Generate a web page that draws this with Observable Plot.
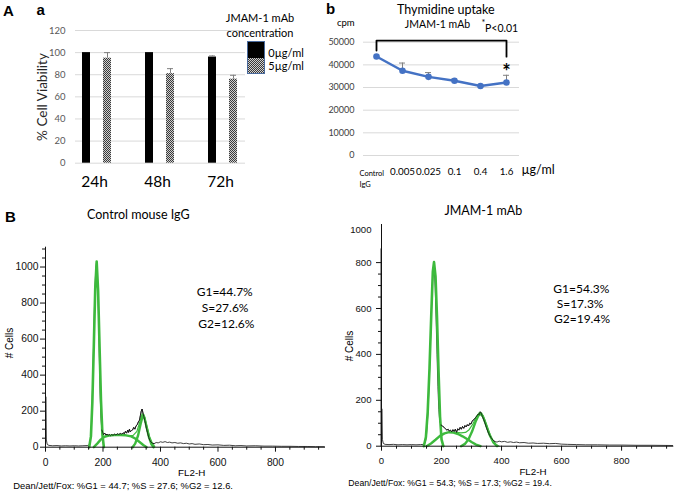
<!DOCTYPE html>
<html><head><meta charset="utf-8">
<script src="https://cdn.jsdelivr.net/npm/d3@7"></script>
<script src="https://cdn.jsdelivr.net/npm/@observablehq/plot@0.6"></script>
<style>
html,body{margin:0;padding:0;background:#fff;}
#root{position:relative;width:678px;height:493px;overflow:hidden;font-family:Lato,"Liberation Sans",sans-serif;color:#000;}
.abs{position:absolute;white-space:nowrap;line-height:1;}
</style></head><body><div id="root"></div>
<script>
// ---------- Panel A-a: cell viability ----------
const timePoints = ["24h", "48h", "72h"];
const legendLabels = ["0µg/ml", "5µg/ml"];
const viability0 = [100, 100, 96];
const viability5 = [95, 81, 76];
const viabilityErr0 = [0, 0, 1];
const viabilityErr5 = [5, 4.5, 3.5];
const viabilityTicks = [0, 20, 40, 60, 80, 100, 120];

// ---------- Panel A-b: thymidine uptake ----------
const doseLabels = ["Control IgG", "0.005", "0.025", "0.1", "0.4", "1.6"];
const cpmValues = [43700, 37400, 34700, 33000, 30700, 32200];
const cpmErr = [0, 3400, 1900, 700, 0, 3200];
const cpmTicks = [0, 10000, 20000, 30000, 40000, 50000];
const bracketPoints = [["Control IgG", 46300], ["Control IgG", 50700], ["1.6", 50700], ["1.6", 43600]];

// ---------- Panel B: cell cycle histograms ----------
const phasesControl = [["G1", 44.7], ["S", 27.6], ["G2", 12.6]];
const phasesJmam = [["G1", 54.3], ["S", 17.3], ["G2", 19.4]];
const flMajorTicks = [0, 200, 400, 600, 800];
const flMinorTicks = [50, 100, 150, 250, 300, 350, 450, 500, 550, 650, 700, 750, 850, 900, 950];
const cellsTicksLeft = [0, 200, 400, 600, 800, 1000];
const cellsMinorLeft = [50, 100, 150, 250, 300, 350, 450, 500, 550, 650, 700, 750, 850, 900, 950, 1050, 1100];
const cellsTicksRight = [0, 200, 400, 600, 800];
const cellsMinorRight = [50, 100, 150, 250, 300, 350, 450, 500, 550, 650, 700, 750];
const cellsTopLabelRight = [1000];

const histControl = [[0,0],[1,280],[3,40],[6,15],[12,10],[25,8],[40,9],[55,7],[70,8],[85,7],[100,8],[115,7],[130,8],[145,9],[152,12],[156,30],[160,120],[164,350],[168,620],[172,880],[175,990],[177,1020],[179,1000],[181,930],[184,760],[187,520],[190,300],[193,160],[196,95],[199,82],[202,70],[206,78],[210,68],[214,72],[218,66],[222,70],[226,64],[230,70],[235,66],[240,72],[245,68],[250,74],[255,70],[260,76],[265,72],[270,80],[274,74],[278,88],[282,78],[286,95],[289,82],[292,100],[295,86],[299,92],[303,96],[307,110],[311,100],[315,118],[319,125],[323,140],[327,150],[330,175],[333,200],[336,212],[339,190],[342,170],[345,150],[348,130],[351,105],[355,80],[359,55],[363,38],[367,28],[372,22],[378,20],[385,26],[392,24],[400,30],[408,27],[416,31],[424,26],[432,28],[440,24],[450,26],[460,22],[470,24],[480,20],[490,22],[500,18],[510,20],[520,16],[535,18],[550,14],[565,15],[580,12],[600,13],[620,10],[640,11],[660,8],[680,9],[700,7],[730,8],[760,6],[790,6],[820,5],[850,5],[880,4],[910,4],[940,3],[970,3]];
const g1Control = [[152,0],[158,60],[163,250],[168,560],[173,880],[178,1030],[183,870],[188,560],[193,260],[198,70],[203,0]];
const sControl = [[168,0],[180,20],[192,42],[205,58],[220,64],[240,67],[260,68],[280,66],[298,60],[312,48],[326,30],[340,12],[352,0]];
const g2Control = [[303,0],[312,20],[322,65],[331,130],[338,172],[344,165],[352,110],[360,55],[368,18],[376,0]];
const sumControl = [[290,63],[305,66],[318,88],[328,140],[336,185],[343,180],[352,120],[362,60],[372,20],[380,4]];

const histJmam = [[0,0],[1,163],[3,30],[6,12],[12,8],[25,7],[40,8],[55,6],[70,7],[85,6],[100,7],[115,6],[130,7],[140,8],[146,15],[150,50],[155,150],[160,320],[165,530],[169,690],[172,770],[174,785],[176,770],[179,690],[182,550],[185,400],[188,260],[191,160],[194,110],[198,92],[202,90],[206,84],[210,80],[214,75],[218,70],[222,74],[226,66],[230,70],[234,62],[238,72],[242,64],[246,74],[250,60],[254,76],[258,70],[262,82],[266,74],[270,86],[274,78],[278,90],[282,84],[286,94],[290,88],[294,100],[298,96],[302,108],[306,115],[310,118],[314,126],[318,132],[322,140],[326,138],[329,150],[332,145],[336,130],[340,118],[345,100],[350,80],[355,62],[360,48],[366,35],[372,26],[378,20],[385,18],[392,22],[400,19],[410,21],[420,17],[430,19],[440,16],[450,18],[460,15],[475,16],[490,13],[505,14],[520,12],[540,13],[560,11],[580,12],[600,9],[620,8],[650,7],[680,6],[720,6],[760,5],[800,5],[850,4],[900,4],[970,3]];
const debrisJmam = [[0,0],[0,860]];
const g1Jmam = [[141,0],[148,40],[154,150],[160,340],[166,580],[171,760],[175,802],[180,740],[185,560],[190,330],[195,130],[200,30],[206,0]];
const sJmam = [[150,0],[165,12],[180,28],[195,45],[210,56],[225,61],[240,59],[255,53],[270,43],[285,31],[300,18],[315,7],[330,0]];
const g2Jmam = [[265,0],[278,10],[290,30],[302,65],[313,105],[322,132],[330,142],[338,130],[348,95],[360,50],[372,18],[385,0]];
const sumJmam = [[250,60],[265,58],[280,60],[292,72],[305,98],[316,128],[326,146],[334,144],[344,115],[356,70],[368,32],[380,10],[392,0]];

// ---------- helpers ----------
const root = document.getElementById("root");
const plain = d => String(d);
function place(svg, left, top) {
  svg.style.position = "absolute";
  svg.style.left = left + "px";
  svg.style.top = top + "px";
  svg.style.background = "transparent";
  svg.style.overflow = "visible";
  svg.style.maxWidth = "none";
  root.appendChild(svg);
}
function label(text, x, y, o = {}) {
  const el = document.createElement("div");
  el.className = "abs";
  el.textContent = text;
  el.style.left = x + "px";
  el.style.top = y + "px";
  el.style.fontSize = (o.size || 12) + "px";
  el.style.fontFamily = o.family || "Lato, sans-serif";
  if (o.weight) el.style.fontWeight = o.weight;
  el.style.color = o.color || "#000";
  const tx = o.anchor === "end" ? "-100%" : o.anchor === "start" ? "0" : "-50%";
  el.style.transform = `translate(${tx}, -50%)` + (o.rotate ? ` rotate(${o.rotate}deg)` : "");
  root.appendChild(el);
  return el;
}
const checkerDefs = () => {
  const defs = d3.create("svg:defs");
  const p = defs.append("pattern").attr("id", "checker").attr("width", 2).attr("height", 2).attr("patternUnits", "userSpaceOnUse");
  p.append("rect").attr("width", 2).attr("height", 2).attr("fill", "#cfcfcf");
  p.append("rect").attr("width", 1).attr("height", 1).attr("fill", "#3a3a3a");
  p.append("rect").attr("x", 1).attr("y", 1).attr("width", 1).attr("height", 1).attr("fill", "#3a3a3a");
  return defs.node();
};

// ---------- Plot a ----------
const slotDomain = timePoints.flatMap((t, i) => i < timePoints.length - 1 ? [t + "|0", t + "|5", "gap" + i] : [t + "|0", t + "|5"]);
const bars = timePoints.flatMap((t, i) => [
  {key: t + "|0", conc: legendLabels[0], v: viability0[i], e: viabilityErr0[i]},
  {key: t + "|5", conc: legendLabels[1], v: viability5[i], e: viabilityErr5[i]}
]);
const errBars = bars.filter(d => d.e > 0);
const plotA = Plot.plot({
  width: 340, height: 200, marginLeft: 75, marginRight: 95, marginTop: 30, marginBottom: 37.3,
  style: {fontFamily: "Lato, sans-serif", background: "transparent"},
  x: {type: "band", domain: slotDomain, paddingInner: 0.6, paddingOuter: 0.3, axis: null},
  y: {domain: [0, 120], axis: null},
  marks: [
    checkerDefs,
    Plot.gridY(viabilityTicks, {stroke: "#d9d9d9", strokeOpacity: 1}),
    Plot.axisY(viabilityTicks, {tickSize: 0, tickPadding: 10, fontSize: 9.5, color: "#595959", label: null, tickFormat: plain}),
    Plot.barY(bars.filter(d => d.conc === legendLabels[0]), {x: "key", y: "v", fill: "#000"}),
    Plot.barY(bars.filter(d => d.conc === legendLabels[1]), {x: "key", y: "v", fill: "url(#checker)"}),
    Plot.ruleX(errBars, {x: "key", y1: "v", y2: d => d.v + d.e, stroke: "#808080"}),
    Plot.tickY(errBars, {x: "key", y: d => d.v + d.e, stroke: "#808080", insetLeft: 1, insetRight: 1}),
    Plot.text(timePoints, {x: d => d + "|0", y: () => 0, text: d => d, dx: 8, dy: 19, fontSize: 15.5, fill: "#000"})
  ]
});
place(plotA, 0, 0);

// ---------- Plot b ----------
const cpmData = doseLabels.map((d, i) => ({dose: d, v: cpmValues[i], e: cpmErr[i]}));
const cpmErrData = cpmData.filter(d => d.e > 0);
const plotB = Plot.plot({
  width: 338, height: 200, marginLeft: 23, marginRight: 159, marginTop: 41.7, marginBottom: 45,
  style: {fontFamily: "Lato, sans-serif", background: "transparent"},
  x: {type: "point", domain: doseLabels, padding: 0.5, axis: null},
  y: {domain: [0, 50000], axis: null},
  marks: [
    Plot.gridY(cpmTicks, {stroke: "#d9d9d9", strokeOpacity: 1}),
    Plot.axisY(cpmTicks, {tickSize: 0, tickPadding: 9, fontSize: 9, color: "#404040", label: null, tickFormat: plain}),
    Plot.axisX(doseLabels.slice(1), {tickSize: 0, tickPadding: 13, fontSize: 9.8, color: "#000", label: null}),
    Plot.text([doseLabels[0]], {x: d => d, frameAnchor: "bottom", text: () => "Control\nIgG", textAnchor: "start", lineAnchor: "top", dx: -17, dy: 12, fontSize: 7.5, lineHeight: 1.55}),
    Plot.text(["µg/ml"], {x: () => doseLabels[doseLabels.length - 1], frameAnchor: "bottom", text: d => d, textAnchor: "start", dx: 15, dy: 18.3, fontSize: 12.5}),
    Plot.line(bracketPoints, {x: d => d[0], y: d => d[1], stroke: "#000", strokeWidth: 1.8}),
    Plot.ruleX(cpmErrData, {x: "dose", y1: "v", y2: d => d.v + d.e, stroke: "#808080"}),
    Plot.ruleY(cpmErrData, {x1: "dose", x2: "dose", y: d => d.v + d.e, stroke: "#808080", insetLeft: -3, insetRight: -3}),
    Plot.line(cpmData, {x: "dose", y: "v", stroke: "#4472c4", strokeWidth: 2.5}),
    Plot.dot(cpmData, {x: "dose", y: "v", fill: "#4472c4", r: 3.3}),
    Plot.text([cpmData[cpmData.length - 1]], {x: "dose", y: "v", text: () => "*", fontSize: 20, fontWeight: "bold", dy: -10})
  ]
});
place(plotB, 340, 0);

// ---------- Histograms ----------
function histPlot(o) {
  const green = "#3dba3d";
  const xy = {x: d => d[0], y: d => d[1]};
  return Plot.plot({
    width: o.width, height: 293, marginLeft: o.ml, marginRight: o.mr, marginTop: o.mt, marginBottom: o.mb,
    style: {fontFamily: "'Liberation Sans', Arial, sans-serif", background: "transparent", color: "#111"},
    x: {domain: [0, 974], axis: null},
    y: {domain: [0, o.yMax], axis: null},
    marks: [
      o.debris ? Plot.line(o.debris, {...xy, stroke: "#9a9a9a", strokeWidth: 1, dx: -1}) : null,
      Plot.line(o.hist, {...xy, stroke: "#111", strokeWidth: 0.8}),
      Plot.line(o.s, {...xy, stroke: green, strokeWidth: 2.4}),
      Plot.line(o.g2, {...xy, stroke: green, strokeWidth: 2.4}),
      Plot.line(o.sum, {...xy, stroke: green, strokeWidth: 1.2}),
      Plot.line(o.g1, {...xy, stroke: green, strokeWidth: 2.6}),
      Plot.line(o.hist.filter(d => d[0] >= 195 && d[0] <= 380), {...xy, stroke: "#111", strokeWidth: 0.8}),
      Plot.ruleX([0], {stroke: "#111"}),
      Plot.ruleY([0], {stroke: "#111"}),
      Plot.axisX(flMajorTicks, {tickSize: 5, tickPadding: 6, fontSize: o.fs, label: null, tickFormat: plain}),
      Plot.axisX(flMinorTicks, {tickSize: 3, tickFormat: () => "", label: null}),
      Plot.axisY(o.yTicks, {tickSize: 5, tickPadding: o.tp, fontSize: o.fs, label: null, tickFormat: plain}),
      Plot.axisY(o.yMinor, {tickSize: 3, tickFormat: () => "", label: null}),
      o.topLabel ? Plot.text(o.topLabel, {y: d => d, frameAnchor: "left", text: plain, textAnchor: "end", dx: -(5 + o.tp), dy: 13, fontSize: o.fs}) : null
    ]
  });
}
place(histPlot({width: 340, ml: 45, mr: 15, mt: 46.7, mb: 46.3, yMax: 1110, fs: 10.3, tp: 2,
  yTicks: cellsTicksLeft, yMinor: cellsMinorLeft,
  hist: histControl, g1: g1Control, s: sControl, g2: g2Control, sum: sumControl}), 0, 200);
place(histPlot({width: 338, ml: 41, mr: 4.7, mt: 24, mb: 47.3, yMax: 966, fs: 9.6, tp: 5,
  yTicks: cellsTicksRight, yMinor: cellsMinorRight, topLabel: cellsTopLabelRight, debris: debrisJmam,
  hist: histJmam, g1: g1Jmam, s: sJmam, g2: g2Jmam, sum: sumJmam}), 340, 200);

// ---------- Text & legend ----------
const bold = {family: "'Liberation Sans', Arial, sans-serif", weight: "bold", size: 15, anchor: "start"};
label("A", 3, 10, bold);
label("a", 36.5, 9, bold);
label("b", 326, 8, bold);
label("B", 5, 216, bold);

label("% Cell Viability", 43.3, 96.7, {size: 13.5, rotate: -90, color: "#262626"});
label("JMAM-1 mAb", 260, 16.7, {size: 11});
label("concentration", 260, 31.7, {size: 11});
const lg = document.createElement("div");
lg.style.cssText = "position:absolute;left:246.5px;top:41px;width:18px;height:33px;box-sizing:border-box;border:1px solid #4a6b9e;";
lg.innerHTML = '<div style="height:15.5px;background:#000"></div><div style="height:15.5px;background:repeating-conic-gradient(#3a3a3a 0% 25%, #cfcfcf 0% 50%) 0 0/2px 2px"></div>';
root.appendChild(lg);
label(legendLabels[0], 268.3, 52, {size: 11, anchor: "start"});
label(legendLabels[1], 268.3, 64.5, {size: 11, anchor: "start"});

label("Thymidine uptake", 445.8, 10, {size: 12.5});
label("JMAM-1 mAb", 437.5, 24, {size: 10.5});
label("*", 481.5, 22, {size: 9, anchor: "start"});
label("P<0.01", 485, 28.3, {size: 10.5, anchor: "start"});
label("cpm", 337, 23, {size: 9.5, anchor: "start"});

const helv = "'Liberation Sans', Arial, sans-serif";
label("Control mouse IgG", 138.3, 215, {size: 12.5});
label("JMAM-1 mAb", 483.3, 211, {size: 12.5});
const phaseText = (ph) => ph.map(([p, v]) => `${p}=${v}%`);
const deanText = (ph) => "Dean/Jett/Fox: " + ph.map(([p, v]) => `%${p} = ${v}`).join("; ") + ".";
const ctrlTxt = phaseText(phasesControl);
label(ctrlTxt[0], 196.7, 291.7, {size: 12, anchor: "start"});
label(ctrlTxt[1], 201.7, 307.7, {size: 12, anchor: "start"});
label(ctrlTxt[2], 198.3, 323.7, {size: 12, anchor: "start"});
const jTxt = phaseText(phasesJmam);
label(jTxt[0], 553.3, 289, {size: 12, anchor: "start"});
label(jTxt[1], 556.7, 304, {size: 12, anchor: "start"});
label(jTxt[2], 554, 319, {size: 12, anchor: "start"});
label("# Cells", 10, 343, {size: 10, rotate: -90, family: helv});
label("# Cells", 350, 346, {size: 10, rotate: -90, family: helv});
label("FL2-H", 191.7, 473, {size: 9.8, family: helv});
label("FL2-H", 533, 471.7, {size: 9.8, family: helv});
label(deanText(phasesControl), 13.3, 486, {size: 9.4, family: helv, anchor: "start"});
label(deanText(phasesJmam), 348.3, 483.3, {size: 8.7, family: helv, anchor: "start"});
</script></body></html>
